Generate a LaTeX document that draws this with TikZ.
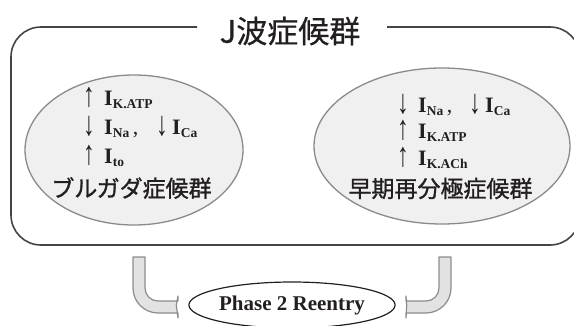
\documentclass[tikz,border=0pt]{standalone}
\usepackage{fontspec}
\usepackage{graphicx}
\usetikzlibrary{shapes.geometric}
\setmainfont{Liberation Serif}
\newfontfamily\cjk[FakeBold=0.6]{Noto Sans CJK JP}
\newfontfamily\cjkb[FakeBold=1.2]{Noto Sans CJK JP}

% current label: bold I with lowered bold subscript
\newcommand{\cur}[1]{\textbf{I}\raisebox{-3.5pt}{\fontsize{13.5}{13.5}\selectfont\textbf{#1}}}
% tall, narrow up/down arrows
\newcommand{\arrowglyph}[1]{\raisebox{-1pt}{\scalebox{1.3}[1.9]{\fontsize{18}{18}\selectfont #1}}}
\newcommand{\up}{\makebox[21pt][l]{\arrowglyph{↑}}}
\newcommand{\dn}{\makebox[21pt][l]{\arrowglyph{↓}}}
\newcommand{\dnb}{\makebox[16pt][l]{\arrowglyph{↓}}}

\definecolor{frame}{HTML}{444444}
\definecolor{ink}{HTML}{231F20}
\definecolor{ellfill}{HTML}{F0F0F0}
\definecolor{ellline}{HTML}{8A8A8A}
\definecolor{arrfill}{HTML}{E2E2E2}
\definecolor{arrline}{HTML}{8C8C8C}

\tikzset{
  syndrome/.style={draw=ellline, fill=ellfill, line width=1.3pt},
  curr/.style={inner sep=0pt, anchor=base west, text=ink, font=\fontsize{22}{22}\selectfont},
  jlabel/.style={inner sep=0pt, text=ink, font=\cjkb\fontsize{23}{23}\selectfont},
  bentarrow/.style={draw=arrline, fill=arrfill, line width=1.2pt, line join=round},
}

\begin{document}
\begin{tikzpicture}[x=1pt, y=-1pt]
\path[use as bounding box, clip] (0,0) rectangle (574,325);

% outer rounded frame, open at the top for the title
\draw[frame, line width=1.6pt]
  (197,27) -- (41,27) .. controls (24.4,27) and (11,40.4) .. (11,57)
  -- (11,215) .. controls (11,231.6) and (24.4,245) .. (41,245)
  -- (550,245) .. controls (566.6,245) and (580,231.6) .. (580,215)
  -- (580,57) .. controls (580,40.4) and (566.6,27) .. (550,27)
  -- (387,27);
\node[inner sep=0pt, text=ink, font=\cjk\fontsize{31}{31}\selectfont] (title) at (290,31) {J波症候群};

% the two syndromes
\node[syndrome, ellipse, minimum width=218pt, minimum height=150pt, inner sep=0pt] (brugada) at (134,150) {};
\node[syndrome, ellipse, minimum width=256pt, minimum height=156pt, inner sep=0pt] (early) at (442,146) {};

\node[curr] (b1) at (83,105) {\up\cur{K.ATP}};
\node[curr] (b2) at (83,134) {\dn\makebox[52pt][l]{\cur{Na}\,,}\dnb\cur{Ca}};
\node[curr] (b3) at (83,163) {\up\cur{to}};
\node[jlabel] (bname) at (131.5,188) {ブルガダ症候群};

\node[curr] (e1) at (397,112) {\dn\makebox[51pt][l]{\cur{Na}\,,}\dnb\cur{Ca}};
\node[curr] (e2) at (397,138) {\up\cur{K.ATP}};
\node[curr] (e3) at (397,165) {\up\cur{K.ACh}};
\node[jlabel] (ename) at (440.5,188.5) {早期再分極症候群};

% common mechanism
\node[draw=ink, line width=1.2pt, ellipse, minimum width=180pt, minimum height=46pt, inner sep=0pt,
      text=ink, font=\bfseries\fontsize{21}{21}\selectfont] (reentry) at (292,305) {Phase 2 Reentry};

% bent block arrows pointing at the reentry ellipse
\coordinate (ltip) at ([xshift=-12pt]reentry.west);
\draw[bentarrow]
  (133,257) -- (133,288) .. controls (133,301.8) and (144.2,313) .. (158,313)
  -- (178,313) -- (178,318) -- (ltip) -- (178,296) -- (178,301) -- (158,301)
  .. controls (150.8,301) and (145,295.2) .. (145,288) -- (145,257) -- cycle;
\coordinate (rtip) at ([xshift=11pt]reentry.east);
\draw[bentarrow]
  (451,257) -- (451,288) .. controls (451,301.8) and (439.8,313) .. (426,313)
  -- (406,313) -- (406,318) -- (rtip) -- (406,296) -- (406,301) -- (426,301)
  .. controls (433.2,301) and (439,295.2) .. (439,288) -- (439,257) -- cycle;
\end{tikzpicture}
\end{document}
